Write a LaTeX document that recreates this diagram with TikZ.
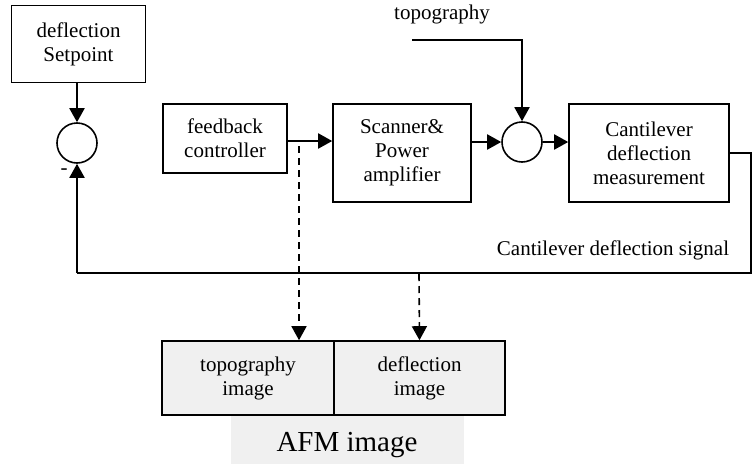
\documentclass[tikz,border=0pt]{standalone}
\usepackage{fontspec}
\setmainfont{Liberation Serif}
\usetikzlibrary{arrows.meta,calc}
\definecolor{lightfill}{RGB}{240,240,240}
\begin{document}
\begin{tikzpicture}[x=1pt,y=-1pt,
  every node/.style={font=\fontsize{21}{24}\selectfont, align=center, inner sep=0pt},
  blk/.style={draw, line width=1.6pt, minimum width=#1, align=center},
  sumc/.style={draw, circle, line width=1.6pt, minimum size=40pt},
  conn/.style={line width=1.9pt, -{Triangle[length=14pt,width=15pt]}},
  plain/.style={line width=1.9pt},
  dashc/.style={line width=1.6pt, dash pattern=on 7pt off 5pt, -{Triangle[length=14pt,width=15pt]}},
  imgbox/.style={draw, line width=1.6pt, fill=lightfill, minimum height=74pt, minimum width=#1}]
\useasboundingbox (0,0) rectangle (754,463);

\node[blk=134pt, minimum height=77pt] (sp) at (78.5,44) {deflection\\Setpoint};
\node[sumc] (s1) at (77,143) {};
\node[blk=124pt, minimum height=69pt] (fb) at (225,138.5) {feedback\\controller};
\node[blk=138pt, minimum height=98pt] (sc) at (402,153) {Scanner\&\\Power\\amplifier};
\node[sumc] (s2) at (522,142) {};
\node[blk=160pt, minimum height=98pt] (cm) at (649,153) {Cantilever\\deflection\\measurement};

\node (topo) at (442,14) {topography};
\coordinate (tstart) at (412,40);
\node (sig) at (613,250) {Cantilever deflection signal};
\node (minus) at (64,172) {-};

\coordinate (rc) at (751,153);
\coordinate (rb) at (751,273);
\coordinate (lb) at (77,273);

\draw[conn] (sp.south -| s1.north) -- (s1.north);
\draw[conn] (tstart) -| (s2.north);
\draw[conn] (fb.east |- 0,141) -- (sc.west |- 0,141);
\draw[conn] (sc.east |- s2.west) -- (s2.west);
\draw[conn] (s2.east) -- (cm.west |- s2.east);
\draw[plain] (cm.east) -- (rc) -- (rb) -- (lb);
\draw[conn] (lb) -- (s1.south);

\node[fill=lightfill, minimum width=233pt, minimum height=50pt] (afm) at (347.5,440) {};
\node[font=\fontsize{29}{32}\selectfont] (afmt) at (347,445) {AFM image};
\node[imgbox=172pt] (ti) at (248,378) {topography\\image};
\node[imgbox=171pt] (di) at (419.5,378) {deflection\\image};

\coordinate (d1) at (299,146);
\coordinate (d2) at (419,274);
\draw[dashc] (d1) -- (d1 |- ti.north);
\draw[dashc] (d2) -- (di.north);
\end{tikzpicture}
\end{document}
